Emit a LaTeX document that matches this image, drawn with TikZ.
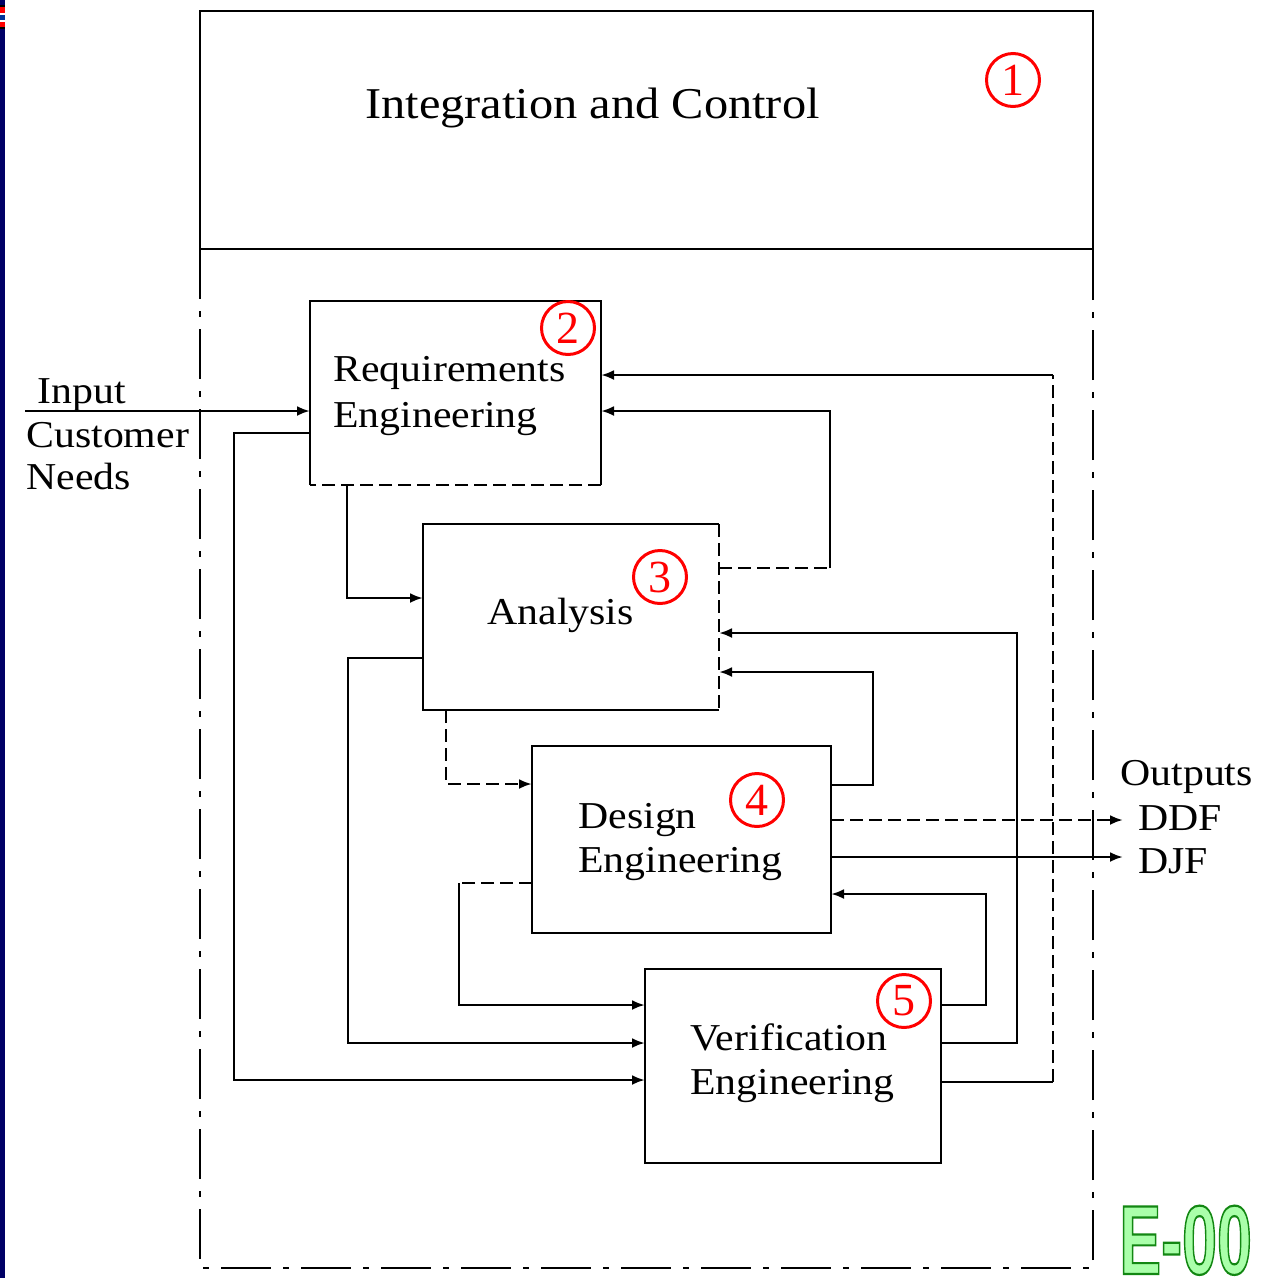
\documentclass[tikz,border=0pt]{standalone}
\usepackage{fontspec}
\setmainfont{Liberation Serif}[FakeStretch=1.1]
\newfontfamily\digitfont{Liberation Serif}
\newfontfamily\logofont{Liberation Sans}
\usetikzlibrary{arrows.meta}
\definecolor{navy}{HTML}{000066}
\definecolor{flagblue}{HTML}{003399}
\definecolor{logofill}{HTML}{AAFFAA}
% outlined text: fill with the current colour, stroke in dark green
\newcommand\outlinedtext[1]{%
  {\color{logofill}\special{pdf:literal direct 2 Tr 2.2 w 0.07 0.53 0.07 RG}#1%
   \special{pdf:literal direct 0 Tr}}}
\begin{document}
\begin{tikzpicture}[x=1pt,y=-1pt,
  line width=2.8pt,
  blk/.style={rectangle,inner sep=0pt,outer sep=0pt},
  lbl/.style={inner sep=0pt,anchor=base west,font=\fontsize{38}{46}\selectfont},
  num/.style={circle,draw=red,text=red,line width=3pt,minimum size=53pt,inner sep=0pt,
              font=\digitfont\fontsize{46}{46}\selectfont},
  arr/.style={-{Latex[length=13pt,width=10pt]}},
  dsh/.style={dash pattern=on 13pt off 6pt},
  frame/.style={dash pattern=on 50pt off 12pt on 6pt off 12pt}]
\useasboundingbox (0,0) rectangle (1261,1278);
\clip (0,0) rectangle (1261,1278);
\fill[white] (0,0) rectangle (1261,1278);

% side strip
\fill[navy] (0,0) rectangle (5,1278);
\fill[black] (0,5) rectangle (5,7);
\fill[red] (0,7) rectangle (5,13);
\fill[white] (0,13) rectangle (5,15);
\fill[flagblue] (0,15) rectangle (5,20);
\fill[white] (0,20) rectangle (5,22);
\fill[red] (0,22) rectangle (5,27);
\fill[black] (0,27) rectangle (5,29);

% outer frame: control area and process area
\draw (200,11) rectangle (1093,249);
\draw[frame] (200,249) -- (200,1268) -- (1093,1268) -- (1093,249);
\node[lbl,font=\fontsize{44}{50}\selectfont] (tIC) at (364,118) {Integration and Control};
\node[num] (n1) at (1013,80) {1};

% process boxes
\node[blk,minimum width=291pt,minimum height=184pt] (req) at (455.5,393) {};
\node[blk,minimum width=296pt,minimum height=186pt] (ana) at (571,617) {};
\node[blk,minimum width=299pt,minimum height=187pt] (des) at (681.5,839.5) {};
\node[blk,minimum width=296pt,minimum height=194pt] (ver) at (793,1066) {};

\draw (req.south west) -- (req.north west) -- (req.north east) -- (req.south east);
\draw[dsh] (req.south east) -- (req.south west);
\draw (ana.north east) -- (ana.north west) -- (ana.south west) -- (ana.south east);
\draw[dsh] (ana.north east) -- (ana.south east);
\draw (des.south west) rectangle (des.north east);
\draw (ver.south west) rectangle (ver.north east);

\node[lbl] (tR1) at (332,381) {Requirements};
\node[lbl] (tR2) at (332,427) {Engineering};
\node[lbl] (tA) at (486,624) {Analysis};
\node[lbl] (tD1) at (577,828) {Design};
\node[lbl] (tD2) at (577,872) {Engineering};
\node[lbl] (tV1) at (689,1050) {Verification};
\node[lbl] (tV2) at (689,1094) {Engineering};

\node[num] (n2) at (568,328) {2};
\node[num] (n3) at (660,577) {3};
\node[num] (n4) at (757,800) {4};
\node[num] (n5) at (904,1001) {5};

% input side
\node[lbl] (tIn) at (36,403) {Input};
\node[lbl] (tCu) at (25,447) {Customer};
\node[lbl] (tNe) at (25,489) {Needs};
\coordinate (inStart) at (25,411);
\draw[arr] (inStart) -- (req.west |- 0,411);

% feed-forward connectors
\draw[arr] (req.west |- 0,433) -- (234,433) -- (234,1080) -- (ver.west |- 0,1080);
\draw[arr] (req.south -| 347,0) -- (347,598) -- (ana.west |- 0,598);
\draw[arr] (ana.west |- 0,658) -- (348,658) -- (348,1043) -- (ver.west |- 0,1043);
\draw[arr,dsh] (ana.south -| 446,0) -- (446,784) -- (des.west |- 0,784);
\draw[dsh] (des.west |- 0,883) -- (459,883);
\draw[arr] (459,883) -- (459,1005) -- (ver.west |- 0,1005);

% feedback connectors
\draw[dsh] (ana.east |- 0,568) -- (830,568);
\draw[arr] (830,568) -- (830,411) -- (req.east |- 0,411);
\draw[arr] (des.east |- 0,785) -- (873,785) -- (873,672) -- (ana.east |- 0,672);
\draw[arr] (ver.east |- 0,1005) -- (986,1005) -- (986,894) -- (des.east |- 0,894);
\draw[arr] (ver.east |- 0,1043) -- (1017,1043) -- (1017,633) -- (ana.east |- 0,633);
\draw (ver.east |- 0,1082) -- (1053,1082);
\draw[dsh] (1053,1082) -- (1053,375);
\draw[arr] (1053,375) -- (req.east |- 0,375);

% outputs
\node[lbl] (tOut) at (1119,785) {Outputs};
\node[lbl] (tDDF) at (1137,830) {DDF};
\node[lbl] (tDJF) at (1137,873) {DJF};
\coordinate (ddfTip) at (1123,820);
\coordinate (djfTip) at (1123,857);
\draw[arr,dsh] (des.east |- 0,820) -- (ddfTip);
\draw[arr] (des.east |- 0,857) -- (djfTip);

% page tag
\node[inner sep=0pt,anchor=base west] (tag) at (1118,1274)
  {\scalebox{0.64}[1]{\logofont\bfseries\fontsize{98}{98}\selectfont
   \outlinedtext{E-00}}};
\end{tikzpicture}
\end{document}
